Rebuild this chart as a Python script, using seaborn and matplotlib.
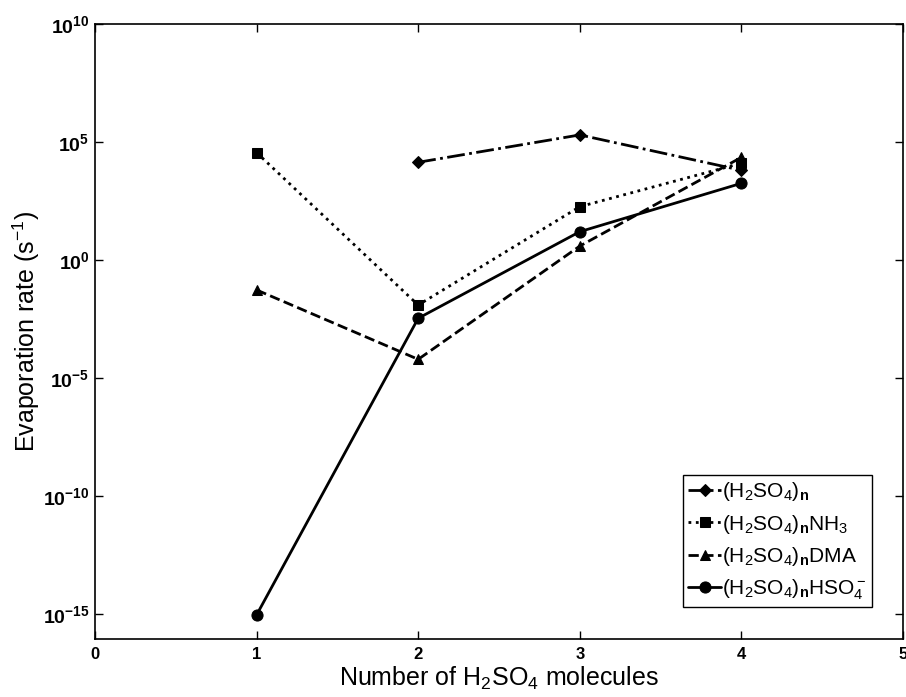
import numpy as np
import pandas as pd
import matplotlib
matplotlib.use("Agg")
import matplotlib.pyplot as plt
import seaborn as sns
from matplotlib.ticker import FixedLocator, FuncFormatter, NullLocator

## Data (log10 of evaporation rate)
n_h2so4 = [2, 3, 4]
log_h2so4 = [4.14, 5.30, 3.80]

n_nh3 = [1, 2, 3, 4]
log_nh3 = [4.55, -1.91, 2.26, 4.10]

n_dma = [1, 2, 3, 4]
log_dma = [-1.27, -4.21, 0.59, 4.35]

n_hso4 = [1, 2, 3, 4]
log_hso4 = [-15.04, -2.47, 1.20, 3.25]

labels = [
    r"(H$_2$SO$_4$)$_\mathbf{n}$",
    r"(H$_2$SO$_4$)$_\mathbf{n}$NH$_3$",
    r"(H$_2$SO$_4$)$_\mathbf{n}$DMA",
    r"(H$_2$SO$_4$)$_\mathbf{n}$HSO$_4^-$",
]

## Style
sns.set_style("ticks")
plt.rcParams["font.family"] = ["Liberation Sans", "DejaVu Sans"]
plt.rcParams["mathtext.fontset"] = "custom"
plt.rcParams["mathtext.rm"] = "Liberation Sans"
plt.rcParams["mathtext.it"] = "Liberation Sans"
plt.rcParams["mathtext.bf"] = "Liberation Sans:bold"
plt.rcParams["mathtext.default"] = "regular"
plt.rcParams["text.color"] = "black"
plt.rcParams["axes.labelcolor"] = "black"
plt.rcParams["xtick.color"] = "black"
plt.rcParams["ytick.color"] = "black"

fig = plt.figure(figsize=(9.06, 6.97), dpi=100)
ax = fig.add_axes([95 / 906, 58 / 697, 808 / 906, 615 / 697])

series = [
    (n_h2so4, log_h2so4, "D", "-.", 6.5),
    (n_nh3, log_nh3, "s", ":", 7),
    (n_dma, log_dma, "^", "--", 7.5),
    (n_hso4, log_hso4, "o", "-", 8),
]

for (xs, ys, mk, ls, ms), lab in zip(series, labels):
    df = pd.DataFrame({"n": xs, "rate": np.power(10.0, ys)})
    sns.lineplot(
        data=df, x="n", y="rate", ax=ax,
        color="black", marker=mk, markersize=ms,
        linestyle=ls, linewidth=2, markeredgecolor="black",
        errorbar=None, label=lab,
    )

## Axes
ax.set_yscale("log")
ax.set_xlim(0, 5)
ax.set_ylim(10 ** -16.06, 1e10)
ax.set_xticks([0, 1, 2, 3, 4, 5])
ax.yaxis.set_major_locator(FixedLocator([1e-15, 1e-10, 1e-5, 1e0, 1e5, 1e10]))
ax.yaxis.set_minor_locator(NullLocator())
ax.yaxis.set_major_formatter(
    FuncFormatter(lambda v, p: r"$\mathbf{10^{%d}}$" % round(np.log10(v)))
)
ax.tick_params(direction="in", length=6, width=1, top=True, right=True,
               colors="black")
ax.tick_params(axis="y", labelsize=14, pad=4)
ax.tick_params(axis="x", labelsize=12, pad=6)
for t in ax.get_xticklabels():
    t.set_fontweight("bold")
for s in ax.spines.values():
    s.set_visible(True)
    s.set_linewidth(1.2)
    s.set_color("black")

ax.set_xlabel(r"Number of H$_2$SO$_4$ molecules", fontsize=18, labelpad=2)
ax.set_ylabel(r"Evaporation rate (s$^{-1}$)", fontsize=18)
ax.yaxis.set_label_coords(-0.066, 0.5)

leg = ax.legend(
    loc="lower right", bbox_to_anchor=(0.9616, 0.052), borderaxespad=0,
    fontsize=15, handlelength=1.6, handletextpad=0.05, borderpad=0.25,
    labelspacing=0.45, fancybox=False, edgecolor="black", framealpha=1,
)
leg.get_frame().set_linewidth(1)

plt.savefig("out.png", dpi=100)
